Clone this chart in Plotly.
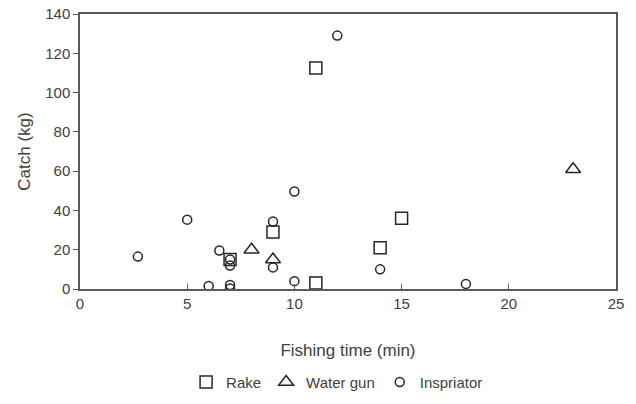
import plotly.graph_objects as go

rake_x = [7, 9, 11, 11, 14, 15]
rake_y = [15, 29, 112.5, 3, 21, 36]

gun_x = [8, 9, 23]
gun_y = [20, 15, 61]

insp_x = [2.7, 5, 6.5, 6, 7, 7, 7, 7, 9, 9, 10, 10, 12, 14, 18]
insp_y = [16.5, 35.3, 19.6, 1.5, 15, 12, 2, 0.3, 34.4, 11, 49.6, 4, 129, 10, 2.6]

x_ticks = [0, 5, 10, 15, 20, 25]
y_ticks = [0, 20, 40, 60, 80, 100, 120, 140]

line_col = "#262626"
fig = go.Figure()
fig.add_trace(go.Scatter(x=rake_x, y=rake_y, mode="markers", name="Rake",
                         marker=dict(symbol="square-open", size=12, color=line_col,
                                     line=dict(width=1.5, color=line_col))))
fig.add_trace(go.Scatter(x=gun_x, y=gun_y, mode="markers", name="Water gun",
                         marker=dict(symbol="triangle-up-open", size=13, color=line_col,
                                     line=dict(width=1.5, color=line_col))))
fig.add_trace(go.Scatter(x=insp_x, y=insp_y, mode="markers", name="Inspriator",
                         marker=dict(symbol="circle-open", size=9, color=line_col,
                                     line=dict(width=1.5, color=line_col))))

axis_col = "#595959"
txt_col = "#404040"
fam = "Liberation Sans"
fig.update_layout(
    width=636, height=404,
    margin=dict(l=80, r=20, t=14, b=115, autoexpand=False),
    plot_bgcolor="white", paper_bgcolor="white",
    font=dict(family=fam, color=txt_col, size=15),
    showlegend=True,
    legend=dict(orientation="h", x=0.53, xanchor="center", xref="container",
                y=0.054, yanchor="middle", yref="container",
                font=dict(size=15, color=txt_col, family=fam), itemwidth=30, tracegroupgap=0),
    xaxis=dict(range=[0, 25], tickvals=x_ticks, showgrid=False, zeroline=False,
               showline=True, linecolor=axis_col, linewidth=1.5, mirror=True,
               ticks="inside", ticklen=5, tickcolor=axis_col, automargin=False,
               tickfont=dict(family=fam, size=15, color=txt_col),
               title=dict(text="Fishing time (min)", font=dict(family=fam, size=17, color=txt_col), standoff=33)),
    yaxis=dict(range=[0, 140], tickvals=y_ticks, showgrid=False, zeroline=False,
               showline=True, linecolor=axis_col, linewidth=1.5, mirror=True,
               ticks="outside", ticklen=5, tickcolor=axis_col, automargin=False,
               tickfont=dict(family=fam, size=15, color=txt_col),
               title=dict(text="Catch (kg)", font=dict(family=fam, size=17, color=txt_col), standoff=10)),
)
fig.write_html("out.html")
